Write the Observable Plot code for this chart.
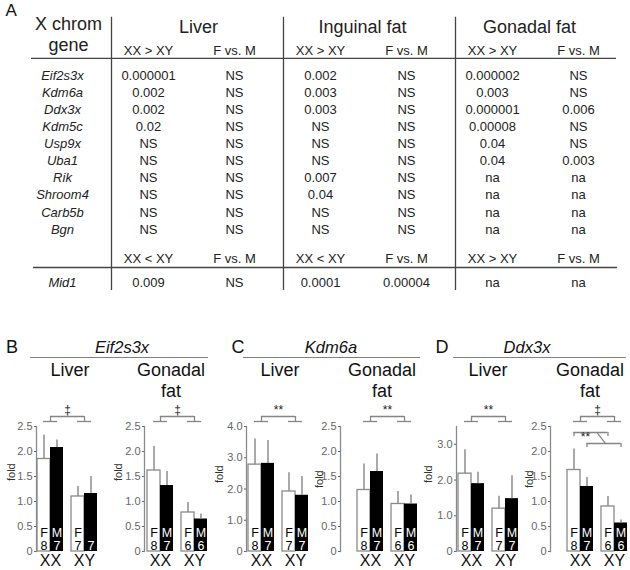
<!DOCTYPE html>
<html><head><meta charset="utf-8">
<script src="https://cdn.jsdelivr.net/npm/d3@7"></script>
<script src="https://cdn.jsdelivr.net/npm/@observablehq/plot@0.6"></script>
<style>
body{margin:0;background:#fff;font-family:Arial,"Liberation Sans",Helvetica,sans-serif;}
#root{position:relative;width:630px;height:570px;overflow:hidden;background:#fff;}
.lbl{position:absolute;transform:translate(-50%,-50%);white-space:nowrap;color:#111;line-height:1;}
.hline{position:absolute;height:0;border-top:1.5px solid #808080;}
</style></head><body><div id="root"></div>
<script>
// ---------------- Table (panel A) data ----------------
const genes = ["Eif2s3x","Kdm6a","Ddx3x","Kdm5c","Usp9x","Uba1","Rik","Shroom4","Carb5b","Bgn"];
const tissues = ["Liver","Inguinal fat","Gonadal fat"];
const subHeadTop = ["XX > XY","F vs. M","XX > XY","F vs. M","XX > XY","F vs. M"];
const liverXX = ["0.000001","0.002","0.002","0.02","NS","NS","NS","NS","NS","NS"];
const liverFM = ["NS","NS","NS","NS","NS","NS","NS","NS","NS","NS"];
const inguinalXX = ["0.002","0.003","0.003","NS","NS","NS","0.007","0.04","NS","NS"];
const inguinalFM = ["NS","NS","NS","NS","NS","NS","NS","NS","NS","NS"];
const gonadalXX = ["0.000002","0.003","0.000001","0.00008","0.04","0.04","na","na","na","na"];
const gonadalFM = ["NS","NS","0.006","NS","NS","0.003","na","na","na","na"];
const subHeadBottom = ["XX < XY","F vs. M","XX < XY","F vs. M","XX > XY","F vs. M"];
const mid1Gene = "Mid1";
const mid1Values = ["0.009","NS","0.0001","0.00004","na","na"];

// ---------------- Bar panels (B, C, D) data ----------------
const genotypes = ["XX","XY"];
const sexes = ["F","M"];
// order: XX-F, XX-M, XY-F, XY-M
const eifLiverMean   = [1.85, 2.08, 1.10, 1.16];
const eifLiverSem    = [0.48, 0.15, 0.20, 0.34];
const eifGonadalMean = [1.62, 1.32, 0.78, 0.65];
const eifGonadalSem  = [0.48, 0.28, 0.20, 0.10];
const kdmLiverMean   = [2.78, 2.82, 1.92, 1.80];
const kdmLiverSem    = [0.82, 0.73, 0.60, 0.60];
const kdmGonadalMean = [1.23, 1.60, 0.95, 0.95];
const kdmGonadalSem  = [0.52, 0.35, 0.25, 0.18];
const ddxLiverMean   = [2.18, 1.90, 1.20, 1.48];
const ddxLiverSem    = [0.67, 0.32, 0.35, 0.64];
const ddxGonadalMean = [1.63, 1.30, 0.90, 0.57];
const ddxGonadalSem  = [0.42, 0.18, 0.20, 0.06];
const nLiver   = [8, 7, 7, 7];
const nGonadal = [8, 7, 6, 6];
const ticks25 = [0, 0.5, 1, 1.5, 2, 2.5];
const ticks40 = [0, 1, 2, 3, 4];
const ticks30 = [0, 1, 2, 3];
const panelLetters = ["A","B","C","D"];
const panelGenes = ["Eif2s3x","Kdm6a","Ddx3x"];
const panelTissues = ["Liver","Gonadal\nfat"];

const root = document.getElementById("root");
const FONT = "Arial, 'Liberation Sans', Helvetica, sans-serif";

// ---------------- Table ----------------
(function table(){
  const cols = ["gene","LXX","LFM","IXX","IFM","GXX","GFM"];
  const vcols = cols.slice(1);
  const colValues = [liverXX, liverFM, inguinalXX, inguinalFM, gonadalXX, gonadalFM];
  const cells = [];
  genes.forEach((g,i)=> vcols.forEach((c,j)=> cells.push({col:c,row:i,text:colValues[j][i]})));
  const HDR = -2.82, SUB = -1.46, TOPLINE = -1.0, SUB2 = 10.7, BOTLINE = 11.22, MIDROW = 12.1;
  const ink = "#222", line = "#444";
  const hdrDx = [50, 42, 37];
  const svg = Plot.plot({
    width: 630, height: 300, margin: 0,
    x: {type: "point", domain: cols, range: [61, 579], padding: 0, axis: null},
    y: {domain: [0, 9], range: [75, 229], axis: null},
    style: {background: "transparent", fontFamily: FONT, overflow: "visible"},
    marks: [
      Plot.text([panelLetters[0]], {frameAnchor: "top-left", dx: 5, dy: 3, fontSize: 17, fill: "#111"}),
      Plot.text(["X chrom","gene"], {x: () => "gene", y: (d,i) => i === 0 ? -2.98 : -1.75, text: d => d, dx: 6, fontSize: 18, fill: ink}),
      ...tissues.map((t, i) => Plot.text([t], {x: () => vcols[i*2], y: () => HDR, text: d => d, dx: hdrDx[i], fontSize: 18, fill: ink})),
      Plot.text(subHeadTop, {x: (d,i) => vcols[i], y: () => SUB, text: d => d, fontSize: 13, fill: ink}),
      Plot.text(genes, {x: () => "gene", y: (d,i) => i, text: d => d, fontSize: 13, fontStyle: "italic", fill: ink}),
      Plot.text(cells, {x: "col", y: "row", text: "text", fontSize: 13, fill: ink}),
      Plot.text(subHeadBottom, {x: (d,i) => vcols[i], y: () => SUB2, text: d => d, fontSize: 13, fill: ink}),
      Plot.text([mid1Gene], {x: () => "gene", y: () => MIDROW, text: d => d, fontSize: 13, fontStyle: "italic", fill: ink}),
      Plot.text(mid1Values, {x: (d,i) => vcols[i], y: () => MIDROW, text: d => d, fontSize: 13, fill: ink}),
      Plot.ruleY([TOPLINE], {x1: () => "gene", x2: () => "GFM", insetLeft: -31, insetRight: -38, stroke: line, strokeWidth: 1.4}),
      Plot.ruleY([BOTLINE], {x1: () => "gene", x2: () => "GFM", insetLeft: -29, insetRight: -39, stroke: line, strokeWidth: 1.4}),
      Plot.ruleX(["LXX","IXX","GXX"], {x: d => d, y1: () => -3.4, y2: () => 12.57, dx: -37, stroke: line, strokeWidth: 1.3})
    ]
  });
  svg.style.position = "absolute"; svg.style.left = "0px"; svg.style.top = "0px";
  root.appendChild(svg);
})();

// ---------------- Panel headers (HTML text) ----------------
function lbl(text, x, y, size, italic){
  const d = document.createElement("div");
  d.className = "lbl"; d.textContent = text;
  d.style.left = x + "px"; d.style.top = y + "px"; d.style.fontSize = size + "px";
  if (italic) d.style.fontStyle = "italic";
  root.appendChild(d);
}
function hline(x1, x2, y){
  const d = document.createElement("div");
  d.className = "hline"; d.style.left = x1 + "px"; d.style.width = (x2 - x1) + "px"; d.style.top = y + "px";
  root.appendChild(d);
}
const letterX = [12, 238, 442], titleX = [122, 331, 527], lineX = [[30,208],[243,420],[453,626]];
const liverX = [70, 280, 488], gonX = [171, 382, 590];
for (let p = 0; p < 3; p++){
  lbl(panelLetters[p+1], letterX[p], 347, 18);
  lbl(panelGenes[p], titleX[p], 347, 16.5, true);
  hline(lineX[p][0], lineX[p][1], 357);
  lbl(panelTissues[0], liverX[p], 370, 18);
  const [g1, g2] = panelTissues[1].split("\n");
  lbl(g1, gonX[p], 370, 18);
  lbl(g2, gonX[p], 391, 18);
}

// ---------------- Bar subplots ----------------
function subplot(cfg){
  const {axisX, gap, ymax, ticks, mean, sem, n, hideLastM, sig, foldDx, foldDy, extra} = cfg;
  const ML = 40, MT = 28, MB = 19, H = 172, TOP = 398;
  const W = ML + gap + 60 + 8;
  const u = ymax / (H - MT - MB);
  const rows = [];
  genotypes.forEach((g, gi) => sexes.forEach((s, si) => {
    const k = gi * 2 + si;
    rows.push({g, s, v: mean[k], e: sem[k], top: (hideLastM && k === 3) ? "" : s, n: String(n[k])});
  }));
  const F = rows.filter(d => d.s === "F"), M = rows.filter(d => d.s === "M");
  const gray = "#858585";
  const yb1 = ymax + 5 * u, yb2 = ymax + 10 * u, yt = ymax + 16 * u;
  const lab = {x: "g", y: () => 0, lineAnchor: "bottom", fontSize: 12.5};
  const marks = [
    Plot.barY(F, {x: "g", y: "v", fill: "white", stroke: "#8a8a8a", strokeWidth: 1.3, insetRight: 13}),
    Plot.barY(M, {x: "g", y: "v", fill: "black", insetLeft: 13}),
    Plot.ruleX(F, {x: "g", y1: "v", y2: d => d.v + d.e, dx: -6.5, stroke: gray, strokeWidth: 1.4}),
    Plot.ruleX(M, {x: "g", y1: "v", y2: d => d.v + d.e, dx: 6.5, stroke: gray, strokeWidth: 1.4}),
    Plot.text(F, {...lab, text: "top", dx: -6.5, dy: -15, fill: "black"}),
    Plot.text(F, {...lab, text: "n",   dx: -6.5, dy: -2,  fill: "black"}),
    Plot.text(M, {...lab, text: "top", dx: 6.5,  dy: -15, fill: "white"}),
    Plot.text(M, {...lab, text: "n",   dx: 6.5,  dy: -2,  fill: "white"}),
    Plot.frame({anchor: "left", stroke: "#8a8a8a", strokeWidth: 1.3}),
    Plot.axisY({ticks, tickFormat: d => d === 0 ? "0" : d.toFixed(1), tickSize: 2, tickPadding: 2, fontSize: 11, color: "#666", label: null}),
    Plot.axisX({tickSize: 0, tickPadding: 3, fontSize: 16, color: "#111", label: null}),
    Plot.text(["fold"], {frameAnchor: "left", rotate: -90, dx: foldDx, dy: foldDy, fontSize: 11, fill: "#333"}),
    // genotype bracket
    Plot.ruleY(genotypes, {x1: d => d, x2: d => d, y: () => yb1, insetLeft: 6, insetRight: 6, stroke: gray, strokeWidth: 1.3}),
    Plot.ruleX(genotypes, {x: d => d, y1: () => yb1, y2: () => yb2, stroke: gray, strokeWidth: 1.3}),
    Plot.ruleY([0], {x1: () => "XX", x2: () => "XY", y: () => yb2, insetLeft: 13, insetRight: 13, stroke: gray, strokeWidth: 1.3}),
    Plot.text([sig], {x: () => "XX", y: () => yt, dx: 17, fontSize: 12, fill: "#222"})
  ];
  if (extra){
    const {fY, mY, label} = extra;
    marks.push(
      Plot.ruleY([fY], {x1: () => "XX", x2: () => "XY", y: d => d, insetLeft: 6.5, insetRight: 19.5, stroke: gray, strokeWidth: 1.3}),
      Plot.ruleX(genotypes, {x: d => d, y1: () => fY - 4 * u, y2: () => fY, dx: -6.5, stroke: gray, strokeWidth: 1.3}),
      Plot.ruleY([mY], {x1: () => "XX", x2: () => "XY", y: d => d, insetLeft: 19.5, insetRight: 6.5, stroke: gray, strokeWidth: 1.3}),
      Plot.ruleX(genotypes, {x: d => d, y1: () => mY - 4 * u, y2: () => mY, dx: 6.5, stroke: gray, strokeWidth: 1.3}),
      Plot.arrow([0], {x1: () => "XX", x2: () => "XY", y1: () => fY + 21 * u, y2: () => mY - 11.5 * u,
        insetStart: 27.5, insetEnd: 14.5, headLength: 0, stroke: gray, strokeWidth: 1.2}),
      Plot.text([label], {x: () => "XX", y: () => fY - 5 * u, dx: 5, fontSize: 12, fill: "#222"})
    );
  }
  const svg = Plot.plot({
    width: W, height: H, marginLeft: ML, marginRight: W - ML - gap - 60, marginTop: MT, marginBottom: MB,
    x: {type: "band", domain: genotypes, range: [ML + gap, ML + gap + 60], paddingInner: 0.235, paddingOuter: 0, round: false},
    y: {domain: [0, ymax]},
    style: {background: "transparent", fontFamily: FONT, overflow: "visible"},
    marks
  });
  svg.style.position = "absolute"; svg.style.left = (axisX - ML) + "px"; svg.style.top = TOP + "px";
  root.appendChild(svg);
}

subplot({axisX: 36,  gap: 1,  ymax: 2.5, ticks: ticks25, mean: eifLiverMean,   sem: eifLiverSem,   n: nLiver,   hideLastM: true, sig: "‡",  foldDx: -25, foldDy: -8});
subplot({axisX: 144, gap: 3,  ymax: 2.5, ticks: ticks25, mean: eifGonadalMean, sem: eifGonadalSem, n: nGonadal, sig: "‡",  foldDx: -26, foldDy: -8});
subplot({axisX: 246, gap: 2,  ymax: 4.0, ticks: ticks40, mean: kdmLiverMean,   sem: kdmLiverSem,   n: nLiver,   sig: "**", foldDx: -27, foldDy: -6});
subplot({axisX: 340, gap: 17, ymax: 2.5, ticks: ticks25, mean: kdmGonadalMean, sem: kdmGonadalSem, n: nGonadal, sig: "**", foldDx: -21, foldDy: -1});
subplot({axisX: 456, gap: 2,  ymax: 3.5, ticks: ticks30, mean: ddxLiverMean,   sem: ddxLiverSem,   n: nLiver,   sig: "**", foldDx: -28, foldDy: -6});
subplot({axisX: 550, gap: 17, ymax: 2.5, ticks: ticks25, mean: ddxGonadalMean, sem: ddxGonadalSem, n: nGonadal, sig: "‡",  foldDx: -21, foldDy: -1,
  extra: {fY: 2.38, mY: 2.16, label: "**"}});
</script>
</body></html>
